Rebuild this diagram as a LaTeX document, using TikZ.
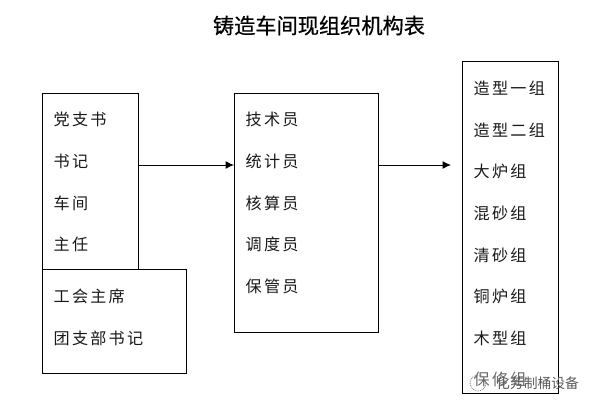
\documentclass[tikz,border=0pt]{standalone}
\usepackage{fontspec}
\setmainfont{Noto Sans CJK SC}[LetterSpace=14]
\newfontfamily\titlefont{Noto Sans CJK SC}[FakeBold=0.6]
\newfontfamily\markfont{Noto Sans CJK SC}
\usetikzlibrary{arrows.meta}
\tikzset{
  x=1pt,y=-1pt,
  box/.style={draw=black,line width=1pt,fill=white,anchor=north west,inner sep=0pt},
  item/.style={anchor=west,inner sep=0pt,font=\fontsize{16.1pt}{16.1pt}\selectfont,text=black!90},
  link/.style={draw=black,line width=1pt,-{Latex[length=8.5pt,width=8pt]}},
  titletext/.style={anchor=center,inner sep=0pt,font=\titlefont\fontsize{21.2pt}{22pt}\selectfont,text=black},
  marktext/.style={anchor=west,inner sep=0pt,font=\markfont\fontsize{13.8pt}{14pt}\selectfont,text=black!65},
}
\begin{document}
\begin{tikzpicture}
\useasboundingbox (0,0) rectangle (597,409);
\node[titletext] (title) at (319,25.5) {铸造车间现组织机构表};
\node[box,minimum width=96pt,minimum height=176pt] (lead) at (42,93) {};
\node[box,minimum width=144pt,minimum height=104pt] (union) at (42,269) {};
\node[box,minimum width=144pt,minimum height=239pt] (staff) at (234,93) {};
\node[box,minimum width=96pt,minimum height=332pt] (teams) at (462,61) {};
\coordinate (level) at (0,165);
\coordinate (end) at (451,165);
\draw[link] (lead.east |- level) -- (staff.west |- level);
\draw[link] (staff.east |- level) -- (end);
\node[item] (a1) at (53.5,119) {党支书};
\node[item] (a2) at (53.5,161) {书记};
\node[item] (a3) at (53.5,203) {车间};
\node[item] (a4) at (53.5,244) {主任};
\node[item] (b1) at (53.5,296) {工会主席};
\node[item] (b2) at (53.5,338) {团支部书记};
\node[item] (c1) at (245.5,119) {技术员};
\node[item] (c2) at (245.5,161) {统计员};
\node[item] (c3) at (245.5,203) {核算员};
\node[item] (c4) at (245.5,244) {调度员};
\node[item] (c5) at (245.5,286) {保管员};
\node[item] (d1) at (473.5,88) {造型一组};
\node[item] (d2) at (473.5,130) {造型二组};
\node[item] (d3) at (473.5,171) {大炉组};
\node[item] (d4) at (473.5,213) {混砂组};
\node[item] (d5) at (473.5,255) {清砂组};
\node[item] (d6) at (473.5,296) {铜炉组};
\node[item] (d7) at (473.5,338) {木型组};
\node[item] (d8) at (473.5,379) {保修组};
\fill[white,opacity=.35] (466,370) rectangle (557,392);
\draw[black!50,densely dotted,line width=.8pt] (478,383) circle (8pt);
\node[marktext] (mark) at (496,383) {化芳制桶设备};
\end{tikzpicture}
\end{document}
